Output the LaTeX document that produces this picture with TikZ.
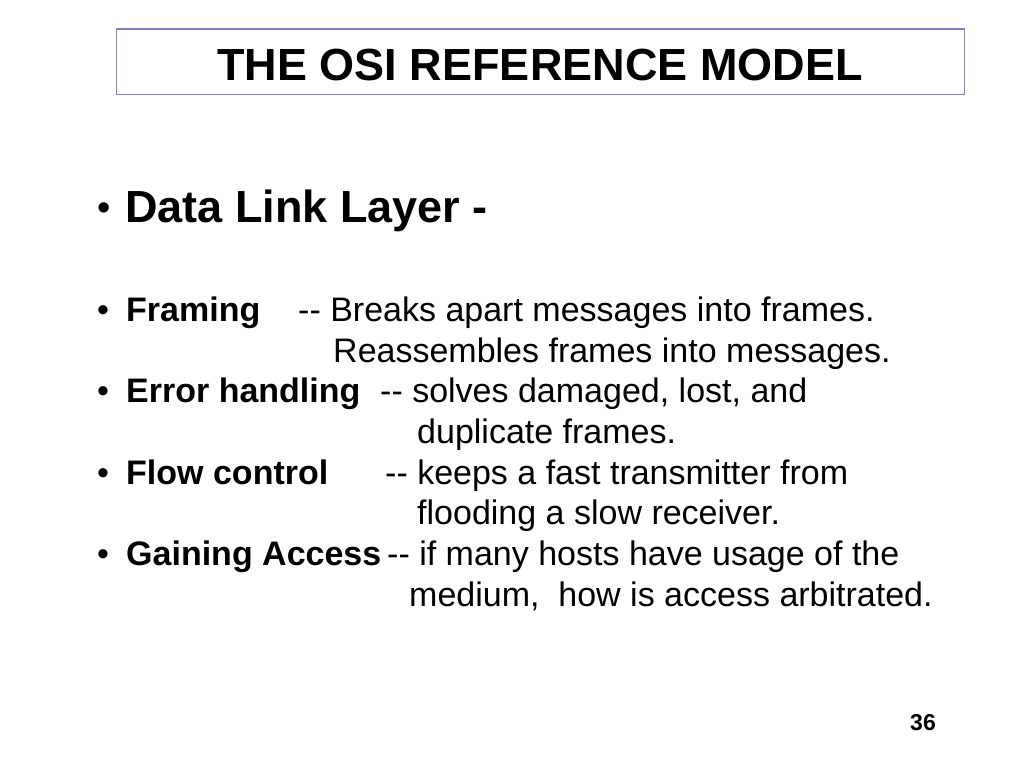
\documentclass[tikz,border=0pt]{standalone}
\usepackage{fontspec}
\setmainfont{Liberation Sans}
\definecolor{boxblue}{RGB}{128,128,204}
\begin{document}
\begin{tikzpicture}[x=1pt,y=-1pt,
  title/.style={anchor=base,inner sep=0pt,font=\fontsize{45}{50}\selectfont\bfseries},
  head/.style={anchor=base west,inner sep=0pt,font=\fontsize{45}{50}\selectfont\bfseries},
  lab/.style={anchor=base west,inner sep=0pt,font=\fontsize{34}{40}\selectfont\bfseries},
  body/.style={anchor=base west,inner sep=0pt,font=\fontsize{34}{40}\selectfont},
  bul/.style={anchor=base west,inner sep=0pt,font=\fontsize{34}{40}\selectfont}]
\useasboundingbox[fill=white] (0,0) rectangle (1024,768);
\draw[boxblue,line width=1.3pt] (116.5,29) rectangle (964.5,94.5);
\node[title] (t) at (540,80) {THE OSI REFERENCE MODEL};
\node[bul,font=\fontsize{38}{44}\selectfont] (b0) at (97,220) {•};
\node[head] (h) at (125,222) {Data Link Layer -};
% line 1
\node[bul] (b1) at (97,321) {•};
\node[lab] (l1) at (126,321) {Framing};
\node[body] (d1) at (298,321) {-{}- Breaks apart messages into frames.};
\node[body] (d1b) at (333,362) {Reassembles frames into messages.};
% line 2
\node[bul] (b2) at (97,402) {•};
\node[lab] (l2) at (126,402) {Error handling};
\node[body] (d2) at (380,402) {-{}- solves damaged, lost, and};
\node[body] (d2b) at (417,443) {duplicate frames.};
% line 3
\node[bul] (b3) at (97,484) {•};
\node[lab] (l3) at (126,484) {Flow control};
\node[body] (d3) at (385,484) {-{}- keeps a fast transmitter from};
\node[body] (d3b) at (417,524) {flooding a slow receiver.};
% line 4
\node[bul] (b4) at (97,565) {•};
\node[lab] (l4) at (126,565) {Gaining Access};
\node[body] (d4) at (387,565) {-{}- if many hosts have usage of the};
\node[body] (d4b) at (409,606) {medium,\ \ how is access arbitrated.};
\node[anchor=base east,inner sep=0pt,font=\fontsize{23}{26}\selectfont\bfseries] (pg) at (936,730) {36};
\end{tikzpicture}
\end{document}
